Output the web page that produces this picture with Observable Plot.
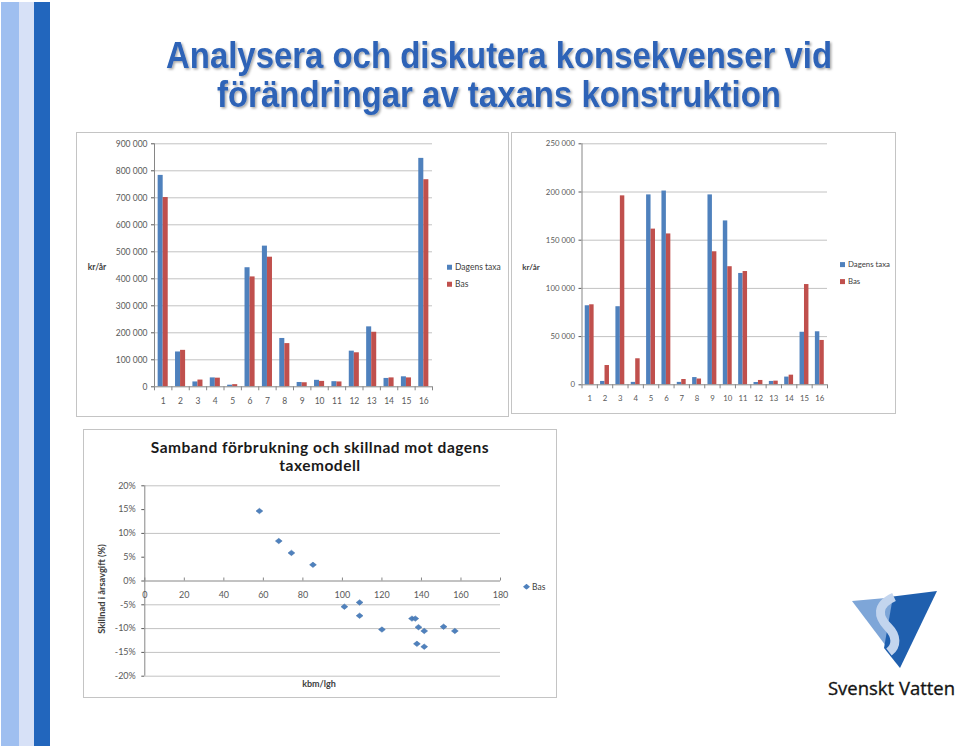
<!DOCTYPE html>
<html><head><meta charset="utf-8">
<script src="https://cdn.jsdelivr.net/npm/d3@7"></script>
<script src="https://cdn.jsdelivr.net/npm/@observablehq/plot@0.6"></script>
<style>
html,body{margin:0;padding:0;background:#fff;}
#page{position:relative;width:959px;height:751px;overflow:hidden;background:#fff;font-family:Lato,"Liberation Sans",sans-serif;}
.abs{position:absolute;}
.panel{position:absolute;box-sizing:border-box;border:1.5px solid #c4c4c4;}
.chart{position:absolute;}
.chart svg{overflow:visible;display:block;}
.lab{position:absolute;white-space:nowrap;line-height:1;transform:translate(-50%,-50%);color:#404040;}
.leg{position:absolute;white-space:nowrap;line-height:1;transform:translateY(-50%);color:#404040;}
.sq{display:inline-block;width:5px;height:5px;margin-right:3px;vertical-align:0px;}
.ttl{position:absolute;left:83px;width:474px;text-align:center;font-size:15.5px;line-height:1;letter-spacing:0.5px;font-weight:bold;color:#1a1a1a;white-space:nowrap;}
</style></head>
<body><div id="page">
  <div class="abs" style="left:1px;top:2px;width:18px;height:744px;background:#9fbff0"></div>
  <div class="abs" style="left:19px;top:2px;width:15px;height:744px;background:#d7e1f7"></div>
  <div class="abs" style="left:34px;top:2px;width:16px;height:744px;background:#2266bd"></div>

  <svg class="abs" style="left:0;top:0" width="959" height="751">
    <defs><filter id="sh" x="-5%" y="-30%" width="110%" height="160%"><feDropShadow dx="1.5" dy="1.5" stdDeviation="0.8" flood-color="#000" flood-opacity="0.35"/></filter></defs>
    <g font-family="'Liberation Sans',Arial,sans-serif" font-weight="bold" font-size="37" fill="#2d63b7" text-anchor="middle" filter="url(#sh)">
      <text x="499" y="68" textLength="666" lengthAdjust="spacingAndGlyphs">Analysera och diskutera konsekvenser vid</text>
      <text x="499" y="107" textLength="564" lengthAdjust="spacingAndGlyphs">förändringar av taxans konstruktion</text>
    </g>
    <g>
      <polygon points="852,601 897,597 889,650" fill="#7ea6d8"/>
      <polygon points="893,596.5 937,591 900,668 884,648" fill="#1f5fae"/>
      <path d="M894,597 C876,605 878,617 888,627 C897,636 897,646 889,652" fill="none" stroke="#c3d5ee" stroke-width="9"/>
      <text x="828" y="695" font-family="'Open Sans',sans-serif" font-size="19" fill="#141414" stroke="#141414" stroke-width="0.35" textLength="127" lengthAdjust="spacingAndGlyphs">Svenskt Vatten</text>
    </g>
  </svg>

  <div class="panel" style="left:76px;top:132px;width:433px;height:285px"></div>
  <div class="panel" style="left:511px;top:132px;width:385px;height:282px"></div>
  <div class="panel" style="left:83px;top:429px;width:474px;height:269px"></div>

  <div id="c1" class="chart" style="left:76px;top:133px"></div>
  <div id="c2" class="chart" style="left:512px;top:133px"></div>
  <div id="c3" class="chart" style="left:83px;top:429px"></div>

  <div class="lab" style="left:97px;top:267px;font-size:8.5px;font-weight:bold">kr/år</div>
  <div class="lab" style="left:531px;top:267px;font-size:8px;font-weight:bold">kr/år</div>

  <div class="leg" style="left:447px;top:267px;font-size:8.5px"><span class="sq" style="background:#4f81bd"></span>Dagens taxa</div>
  <div class="leg" style="left:447px;top:284px;font-size:8.5px"><span class="sq" style="background:#c0504d"></span>Bas</div>
  <div class="leg" style="left:840px;top:265px;font-size:7.8px"><span class="sq" style="background:#4f81bd"></span>Dagens taxa</div>
  <div class="leg" style="left:840px;top:282px;font-size:7.8px"><span class="sq" style="background:#c0504d"></span>Bas</div>

  <div class="ttl" style="top:440px">Samband förbrukning och skillnad mot dagens</div>
  <div class="ttl" style="top:458px">taxemodell</div>
  <div class="lab" style="left:101.5px;top:589px;font-size:9.3px;font-weight:bold;transform:translate(-50%,-50%) rotate(-90deg)">Skillnad i årsavgift (%)</div>
  <div class="lab" style="left:319px;top:683px;font-size:9px;font-weight:bold">kbm/lgh</div>
  <div class="leg" style="left:523px;top:587px;font-size:8.5px"><svg width="7" height="6" style="vertical-align:0px;margin-right:2px"><polygon points="0,3 3.5,0 7,3 3.5,6" fill="#4f81bd"/></svg>Bas</div>
</div>
<script>
// ---- data ----
const categories = [1, 2, 3, 4, 5, 6, 7, 8, 9, 10, 11, 12, 13, 14, 15, 16];
const seriesNames = ["Dagens taxa", "Bas"];
const seriesColors = ["#4f81bd", "#c0504d"];

const chart1Dagens = [783000, 129000, 18000, 33000, 6000, 441000, 521000, 179000, 16000, 24000, 19000, 132000, 222000, 31000, 37000, 846000];
const chart1Bas    = [701000, 135000, 25000, 32000, 8000, 407000, 480000, 160000, 15000, 20000, 18000, 126000, 202000, 33000, 33000, 767000];
const chart1YTicks = [0, 100000, 200000, 300000, 400000, 500000, 600000, 700000, 800000, 900000];

const chart2Dagens = [82000, 3500, 81000, 2500, 197000, 201000, 2500, 7500, 197000, 170000, 115500, 2400, 3500, 8000, 54500, 55000];
const chart2Bas    = [83000, 20000, 196000, 27000, 161500, 156500, 5500, 6000, 138000, 122500, 117500, 4500, 3800, 10000, 104000, 46000];
const chart2YTicks = [0, 50000, 100000, 150000, 200000, 250000];

const scatterKbm  = [58.0, 67.8, 74.2, 85.1, 101.0, 108.7, 108.7, 120.0, 135.2, 136.9, 138.5, 141.4, 137.7, 141.4, 151.2, 156.9];
const scatterDiff = [14.7, 8.4, 5.9, 3.4, -5.4, -4.5, -7.3, -10.2, -7.9, -7.9, -9.7, -10.5, -13.2, -13.8, -9.6, -10.5];
const scatterYTicks = [20, 15, 10, 5, 0, -5, -10, -15, -20];
const scatterGrid = [20, 10, -5, -10, -15, -20];
const scatterXTicks = [0, 20, 40, 60, 80, 100, 120, 140, 160, 180];

// ---- styling ----
const axisGray = "#868686", gridGray = "#c2c2c2", labelGray = "#595959";
const fmtSpace = v => d3.format(",")(v).replace(/,/g, "\u00a0");

function barChart(el, dagens, bas, yTicks, box, fontSize) {
  const rows = categories.flatMap((c, i) => [
    {cat: c, series: seriesNames[0], value: dagens[i], side: -1},
    {cat: c, series: seriesNames[1], value: bas[i], side: 1}
  ]);
  const half = 0.29;
  const ymax = d3.max(yTicks);
  const plotH = box.h - box.mt - box.mb;
  const tickLen = 4 * ymax / plotH;
  const edges = categories.map(c => c - 0.5).concat([categories[categories.length - 1] + 0.5]);
  const svg = Plot.plot({
    width: box.w, height: box.h,
    marginLeft: box.ml, marginRight: box.mr, marginTop: box.mt, marginBottom: box.mb,
    style: {background: "transparent", fontFamily: "Lato, sans-serif", fontSize: fontSize, color: labelGray, overflow: "visible"},
    x: {domain: [edges[0], edges[edges.length - 1]], ticks: categories, tickSize: 0, tickPadding: 11, tickFormat: d => String(d), label: null},
    y: {domain: [0, ymax], ticks: yTicks, tickSize: 3, tickPadding: 4, tickFormat: fmtSpace, label: null},
    color: {domain: seriesNames, range: seriesColors},
    marks: [
      Plot.ruleY(yTicks.filter(t => t > 0), {stroke: gridGray, strokeWidth: 1}),
      Plot.rect(rows, {
        x1: d => d.side < 0 ? d.cat - half : d.cat,
        x2: d => d.side < 0 ? d.cat : d.cat + half,
        y1: 0, y2: "value", fill: "series"
      }),
      Plot.ruleX([edges[0]], {stroke: axisGray}),
      Plot.ruleY([0], {stroke: axisGray}),
      Plot.ruleX(edges, {y1: 0, y2: -tickLen, stroke: axisGray})
    ]
  });
  el.appendChild(svg);
}

barChart(document.getElementById("c1"), chart1Dagens, chart1Bas, chart1YTicks,
  {w: 432, h: 283, ml: 78, mr: 76, mt: 10.3, mb: 29.7}, "8.5px");
barChart(document.getElementById("c2"), chart2Dagens, chart2Bas, chart2YTicks,
  {w: 383, h: 280, ml: 69.5, mr: 68, mt: 10.3, mb: 28.7}, "7.8px");

// scatter
const pts = scatterKbm.map((x, i) => ({x, y: scatterDiff[i]}));
const wideDiamond = {draw(ctx, size) {
  const k = Math.sqrt(size), w = k * 0.6, h = k * 0.48;
  ctx.moveTo(-w, 0); ctx.lineTo(0, -h); ctx.lineTo(w, 0); ctx.lineTo(0, h); ctx.closePath();
}};
const sBox = {w: 473, h: 268, ml: 61.3, mr: 56, mt: 56.3, mb: 21.3};
const sTick = 3 * 40 / (sBox.h - sBox.mt - sBox.mb);
const scatter = Plot.plot({
  width: sBox.w, height: sBox.h,
  marginLeft: sBox.ml, marginRight: sBox.mr, marginTop: sBox.mt, marginBottom: sBox.mb,
  style: {background: "transparent", fontFamily: "Lato, sans-serif", fontSize: "9px", color: labelGray, overflow: "visible"},
  x: {domain: [0, 180], axis: null},
  y: {domain: [-20, 20], ticks: scatterYTicks, tickSize: 3, tickPadding: 6, tickFormat: d => d + "%", label: null},
  marks: [
    Plot.ruleY(scatterGrid, {stroke: gridGray}),
    Plot.ruleX([0], {stroke: axisGray}),
    Plot.ruleY([0], {stroke: axisGray}),
    Plot.ruleX(scatterXTicks, {y1: 0, y2: sTick, stroke: axisGray}),
    Plot.text(scatterXTicks, {x: d => d, y: 0, dy: 14, text: d => String(d), fill: labelGray}),
    Plot.dot(pts, {x: "x", y: "y", symbol: wideDiamond, r: 3.2, fill: "#4f81bd", stroke: "#3e6ea8", strokeWidth: 0.5})
  ]
});
document.getElementById("c3").appendChild(scatter);
</script>
</body></html>
